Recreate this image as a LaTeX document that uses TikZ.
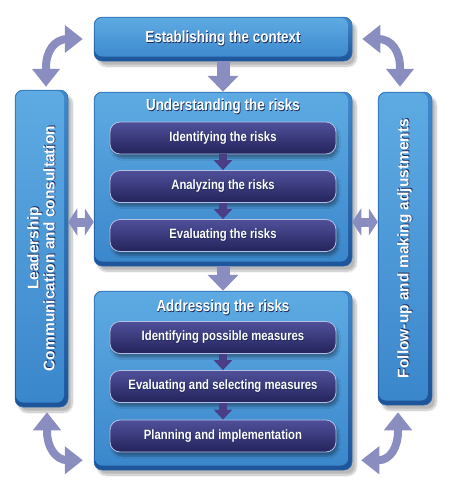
\documentclass[tikz,border=0pt]{standalone}
\usepackage{fontspec}
\setmainfont{Liberation Sans}
\newfontfamily\condb{Liberation Sans}[FakeStretch=0.84]
\usetikzlibrary{arrows.meta,shadows.blur}
\definecolor{boxtop}{HTML}{5EABE3}
\definecolor{boxbot}{HTML}{3A86CB}
\definecolor{bevtop}{HTML}{3F88CC}
\definecolor{bevbot}{HTML}{1E5499}
\definecolor{boxedge}{HTML}{2C6CB0}
\definecolor{intop}{HTML}{50509A}
\definecolor{inbot}{HTML}{23235C}
\definecolor{inedge}{HTML}{B4BFE4}
\definecolor{arrowcol}{HTML}{8A8DBF}
\definecolor{inarrow}{HTML}{4A3F86}
\definecolor{txtshadow}{HTML}{1B2A5C}
\newcommand\shtxt[1]{\makebox[0pt][l]{\raisebox{-0.7pt}{\hspace{0.7pt}\textcolor{txtshadow}{#1}}}#1}
\begin{document}
\begin{tikzpicture}[x=1pt,y=-1pt,
  outerbox/.style={rounded corners=8pt, top color=bevtop, bottom color=bevbot,
    draw=boxedge, line width=0.5pt, inner sep=0pt,
    path picture={\shade[rounded corners=7pt, top color=boxtop, bottom color=boxbot]
      ([xshift=1pt,yshift=-1pt]path picture bounding box.north west) rectangle
      ([xshift=-4pt,yshift=4.5pt]path picture bounding box.south east);},
    blur shadow={shadow xshift=4pt, shadow yshift=-5pt, shadow blur steps=10,
      shadow blur extra rounding=4pt, shadow opacity=28}},
  innerbox/.style={rounded corners=10pt, top color=intop, bottom color=inbot,
    draw=inedge, line width=0.8pt, inner sep=0pt,
    minimum width=226pt, minimum height=32pt,
    text=white, font=\condb\bfseries\fontsize{13.5}{15}\selectfont,
    blur shadow={shadow xshift=2pt, shadow yshift=-4pt, shadow blur steps=8,
      shadow opacity=35}},
  titletext/.style={text=white, inner sep=0pt, font=\condb\bfseries\fontsize{16}{18}\selectfont},
  sidetext/.style={text=white, inner sep=0pt, align=center, rotate=90,
    font=\bfseries\fontsize{15.5}{16}\selectfont},
  bigarrow/.style={draw=arrowcol, line width=13pt, -{Triangle[width=30pt,length=16pt]}},
  dblarrow/.style={draw=arrowcol, line width=9pt,
    {Triangle[width=27pt,length=9pt]}-{Triangle[width=27pt,length=9pt]}},
  curvearrow/.style={draw=arrowcol, line width=8pt,
    {Triangle[width=27pt,length=18pt]}-{Triangle[width=27pt,length=18pt]}},
  smallarrow/.style={draw=inarrow, line width=8pt, -{Triangle[width=18pt,length=10pt]}}
]
\useasboundingbox (0,0) rectangle (450,504);

% outer boxes
\node[outerbox, minimum width=258pt, minimum height=44pt] (ctx) at (223,39) {};
\node[titletext] (ctxt) at (223,39) {\shtxt{Establishing the context}};
\node[outerbox, minimum width=258pt, minimum height=174pt] (under) at (223,179) {};
\node[titletext] (undert) at (223,107) {\shtxt{Understanding the risks}};
\node[outerbox, minimum width=258pt, minimum height=179pt] (addr) at (223,380.5) {};
\node[titletext] (addrt) at (223,308) {\shtxt{Addressing the risks}};
\node[outerbox, minimum width=53pt, minimum height=317pt] (lead) at (41.5,248.5) {};
\node[sidetext] (leadt) at (lead.center) {\shtxt{Leadership}\\\shtxt{Communication and consultation}};
\node[outerbox, minimum width=54pt, minimum height=313pt] (follow) at (405,248.5) {};
\node[sidetext] (followt) at (follow.center) {\shtxt{Follow-up and making adjustments}};

% inner boxes
\node[innerbox] (idr) at (223,138) {\shtxt{Identifying the risks}};
\node[innerbox] (anr) at (223,186.5) {\shtxt{Analyzing the risks}};
\node[innerbox] (evr) at (223,235.5) {\shtxt{Evaluating the risks}};
\node[innerbox] (idm) at (223,337.5) {\shtxt{Identifying possible measures}};
\node[innerbox] (evm) at (223,386.5) {\shtxt{Evaluating and selecting measures}};
\node[innerbox] (pim) at (223,436) {\shtxt{Planning and implementation}};

% arrows
\draw[bigarrow] (ctx.south) -- (under.north);
\draw[bigarrow] (under.south) -- (addr.north);
\draw[smallarrow] (idr.south) -- (anr.north);
\draw[smallarrow] (anr.south) -- (evr.north);
\draw[smallarrow] (idm.south) -- (evm.north);
\draw[smallarrow] (evm.south) -- (pim.north);

\coordinate (midL) at (0,222);
\draw[dblarrow] (lead.east |- midL) -- (under.west |- midL);
\draw[dblarrow] (under.east |- midL) -- (follow.west |- midL);

\draw[curvearrow] ([xshift=4.5pt,yshift=3pt]lead.north) -- ++(0,-19)
  .. controls +(0,-17) and +(-13,0) .. ([xshift=-26pt]ctx.west) -- ([xshift=-11pt]ctx.west);
\draw[curvearrow] ([xshift=-5pt,yshift=5pt]follow.north) -- ++(0,-19)
  .. controls +(0,-17) and +(13,0) .. ([xshift=26pt]ctx.east) -- ([xshift=10pt]ctx.east);
\draw[curvearrow] ([xshift=5.5pt,yshift=-5pt]lead.south) -- ++(0,19)
  .. controls +(0,16) and +(-12,0) .. ([xshift=-26pt,yshift=10pt]addr.south west) -- ([xshift=-11pt,yshift=10pt]addr.south west);
\draw[curvearrow] ([xshift=-7pt,yshift=-7pt]follow.south) -- ++(0,19)
  .. controls +(0,16) and +(12,0) .. ([xshift=26pt,yshift=10pt]addr.south east) -- ([xshift=9pt,yshift=10pt]addr.south east);
\end{tikzpicture}
\end{document}
